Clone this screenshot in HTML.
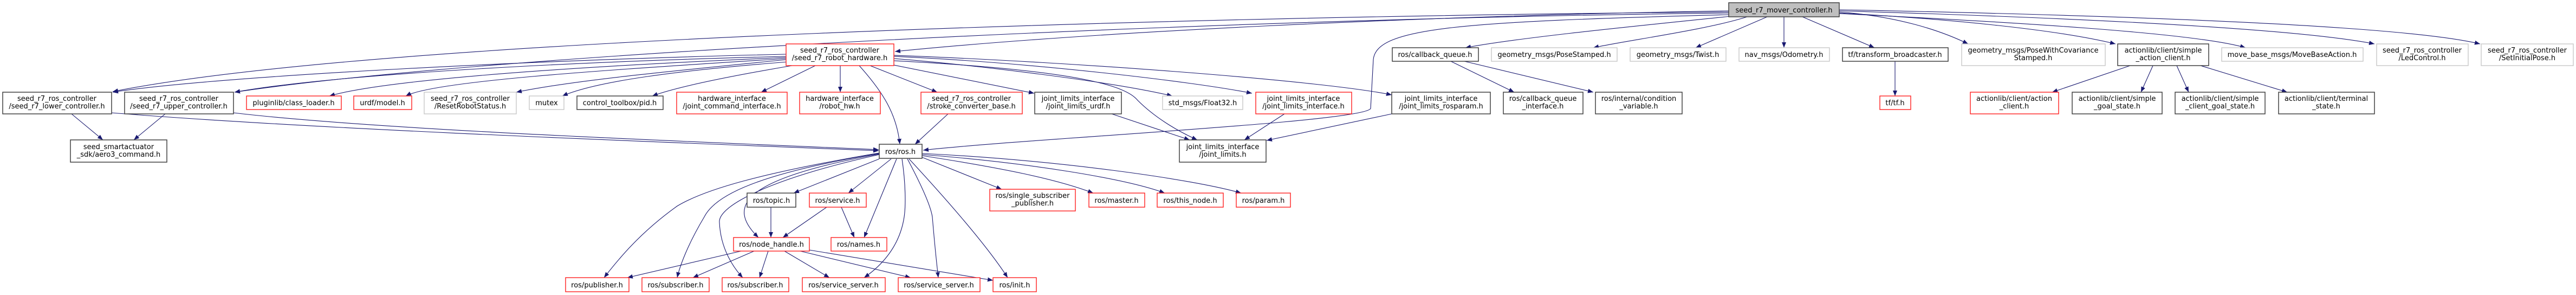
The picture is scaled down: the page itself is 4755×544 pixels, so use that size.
<!DOCTYPE html>
<html><head><meta charset="utf-8"><style>
html,body{margin:0;padding:0;background:#fff;width:4755px;height:544px;overflow:hidden}
svg{display:block}
text{font-family:"DejaVu Sans","Liberation Sans",sans-serif;font-size:13px;fill:#000;text-anchor:middle}
.k{fill:#fff;stroke:#404040;stroke-width:1.5}
.r{fill:#fff;stroke:#ff2020;stroke-width:1.4}
.g{fill:#fff;stroke:#c8c8c8;stroke-width:1.4}
.m{fill:#bfbfbf;stroke:#404040;stroke-width:1.5}
path.e{fill:none;stroke:#191970;stroke-width:1.1}
</style></head><body>
<svg width="4755" height="544" viewBox="0 0 4755 544" xmlns="http://www.w3.org/2000/svg">
<defs><marker id="a" markerUnits="userSpaceOnUse" markerWidth="11" markerHeight="8" refX="10" refY="4" orient="auto"><path d="M0,0 L10,4 L0,8 z" fill="#191970"/></marker></defs>
<g marker-end="url(#a)">
<!-- main edges -->
<path class="e" d="M3191,20 C2600,30 2000,60 1652,95"/>
<path class="e" d="M3191,22 C2200,30 700,70 208,169"/>
<path class="e" d="M3191,24 C2200,35 900,100 433,170"/>
<path class="e" d="M3191,27 C2700,40 2540,50 2535,110 L2530,200 C2520,225 1900,255 1704,277"/>
<path class="e" d="M3195,30 C3000,50 2800,70 2705,88"/>
<path class="e" d="M3225,31 C3150,55 3000,75 2941,88"/>
<path class="e" d="M3262,31 L3130,88"/>
<path class="e" d="M3293,31 L3293,88"/>
<path class="e" d="M3327,31 L3460,88"/>
<path class="e" d="M3395,22 C3500,30 3580,55 3633,81"/>
<path class="e" d="M3395,24 C3600,35 3800,55 3905,81"/>
<path class="e" d="M3395,25 C3700,40 4050,60 4145,88"/>
<path class="e" d="M3395,20 C3900,35 4250,55 4383,81"/>
<path class="e" d="M3395,18 C4000,30 4450,50 4578,81"/>
<!-- hardware edges -->
<path class="e" d="M1451,100 C1000,110 400,140 208,170"/>
<path class="e" d="M1451,104 C1000,115 600,140 433,170"/>
<path class="e" d="M1451,106 C1000,125 700,150 608,177"/>
<path class="e" d="M1451,108 C1100,130 800,150 749,177"/>
<path class="e" d="M1451,110 C1200,135 1050,150 953,170"/>
<path class="e" d="M1455,114 C1250,130 1100,150 1038,177"/>
<path class="e" d="M1462,121 C1350,140 1250,160 1204,177"/>
<path class="e" d="M1505,121 L1405,170"/>
<path class="e" d="M1551,121 L1551,170"/>
<path class="e" d="M1586,121 C1630,170 1655,210 1661,266"/>
<path class="e" d="M1606,121 L1730,170"/>
<path class="e" d="M1650,120 L1909,172"/>
<path class="e" d="M1650,108 C1800,120 2050,150 2164,177"/>
<path class="e" d="M1650,104 C1900,115 2200,150 2311,172"/>
<path class="e" d="M1650,102 C2000,115 2450,150 2569,175"/>
<path class="e" d="M1650,112 C2000,130 2080,160 2100,185 C2130,215 2170,240 2210,258"/>
<!-- row2 edges -->
<path class="e" d="M132,210 L190,258"/>
<path class="e" d="M305,210 L247,258"/>
<path class="e" d="M206,208 C600,240 1300,265 1622,278"/>
<path class="e" d="M431,208 C700,240 1300,262 1622,276"/>
<path class="e" d="M1750,210 L1689,266"/>
<path class="e" d="M2052,210 L2196,258"/>
<path class="e" d="M2371,210 L2297,258"/>
<path class="e" d="M2569,210 L2338,259"/>
<path class="e" d="M2678,113 L2795,170"/>
<path class="e" d="M2703,113 L2941,170"/>
<path class="e" d="M3498,113 L3498,177"/>
<path class="e" d="M3932,121 L3788,170"/>
<path class="e" d="M3974,121 L3952,170"/>
<path class="e" d="M4018,121 L4040,170"/>
<path class="e" d="M4062,121 L4222,170"/>
<!-- ros.h edges -->
<path class="e" d="M1623,293 L1465,356"/>
<path class="e" d="M1645,293 L1566,356"/>
<path class="e" d="M1655,293 L1595,438"/>
<path class="e" d="M1623,284 C1370,330 1340,380 1400,438"/>
<path class="e" d="M1623,282 C1400,320 1300,350 1250,380 C1180,430 1140,480 1115,512"/>
<path class="e" d="M1623,283 C1400,320 1320,360 1300,400 C1270,450 1255,490 1250,512"/>
<path class="e" d="M1623,285 C1420,330 1325,380 1328,410 C1330,460 1355,495 1371,512"/>
<path class="e" d="M1665,293 C1672,340 1672,380 1669,400 C1660,460 1620,495 1595,512"/>
<path class="e" d="M1675,293 C1700,340 1718,380 1721,400 C1726,460 1730,495 1732,512"/>
<path class="e" d="M1678,293 C1740,360 1820,450 1860,512"/>
<path class="e" d="M1702,290 L1849,349"/>
<path class="e" d="M1702,287 C1850,310 1950,330 2018,356"/>
<path class="e" d="M1702,285 C1900,300 2080,330 2150,356"/>
<path class="e" d="M1702,283 C1950,295 2200,330 2291,356"/>
<!-- topic / service -->
<path class="e" d="M1423,382 L1423,438"/>
<path class="e" d="M1526,382 L1445,438"/>
<path class="e" d="M1553,382 L1577,438"/>
<!-- node_handle -->
<path class="e" d="M1368,463 L1158,512"/>
<path class="e" d="M1392,463 L1279,512"/>
<path class="e" d="M1418,463 L1402,512"/>
<path class="e" d="M1448,463 L1531,512"/>
<path class="e" d="M1477,463 L1681,512"/>
<path class="e" d="M1494,461 L1833,517"/>
</g>
<!-- nodes -->
<rect class="m" x="3191" y="5" width="204" height="26"/><text x="3293" y="23">seed_r7_mover_controller.h</text>
<rect class="r" x="1451" y="81" width="199" height="40"/><text x="1550" y="97">seed_r7_ros_controller</text><text x="1550" y="111">/seed_r7_robot_hardware.h</text>
<rect class="k" x="2570" y="88" width="159" height="25"/><text x="2649" y="105">ros/callback_queue.h</text>
<rect class="g" x="2753" y="88" width="232" height="25"/><text x="2869" y="105">geometry_msgs/PoseStamped.h</text>
<rect class="g" x="3009" y="88" width="177" height="25"/><text x="3097" y="105">geometry_msgs/Twist.h</text>
<rect class="g" x="3210" y="88" width="167" height="25"/><text x="3293" y="105">nav_msgs/Odometry.h</text>
<rect class="k" x="3401" y="88" width="195" height="25"/><text x="3498" y="105">tf/transform_broadcaster.h</text>
<rect class="g" x="3621" y="81" width="265" height="40"/><text x="3753" y="97">geometry_msgs/PoseWithCovariance</text><text x="3753" y="111">Stamped.h</text>
<rect class="k" x="3909" y="81" width="168" height="40"/><text x="3993" y="97">actionlib/client/simple</text><text x="3993" y="111">_action_client.h</text>
<rect class="g" x="4101" y="88" width="261" height="25"/><text x="4231" y="105">move_base_msgs/MoveBaseAction.h</text>
<rect class="g" x="4387" y="81" width="169" height="40"/><text x="4471" y="97">seed_r7_ros_controller</text><text x="4471" y="111">/LedControl.h</text>
<rect class="g" x="4580" y="81" width="170" height="40"/><text x="4665" y="97">seed_r7_ros_controller</text><text x="4665" y="111">/SetInitialPose.h</text>

<rect class="k" x="5" y="170" width="201" height="40"/><text x="105" y="186">seed_r7_ros_controller</text><text x="105" y="200">/seed_r7_lower_controller.h</text>
<rect class="k" x="230" y="170" width="201" height="40"/><text x="330" y="186">seed_r7_ros_controller</text><text x="330" y="200">/seed_r7_upper_controller.h</text>
<rect class="r" x="455" y="177" width="175" height="25"/><text x="542" y="194">pluginlib/class_loader.h</text>
<rect class="r" x="653" y="177" width="107" height="25"/><text x="706" y="194">urdf/model.h</text>
<rect class="g" x="783" y="170" width="170" height="40"/><text x="868" y="186">seed_r7_ros_controller</text><text x="868" y="200">/ResetRobotStatus.h</text>
<rect class="g" x="977" y="177" width="64" height="25"/><text x="1009" y="194">mutex</text>
<rect class="k" x="1065" y="177" width="159" height="25"/><text x="1144" y="194">control_toolbox/pid.h</text>
<rect class="r" x="1249" y="170" width="204" height="40"/><text x="1351" y="186">hardware_interface</text><text x="1351" y="200">/joint_command_interface.h</text>
<rect class="r" x="1476" y="170" width="149" height="40"/><text x="1550" y="186">hardware_interface</text><text x="1550" y="200">/robot_hw.h</text>
<rect class="r" x="1700" y="170" width="187" height="40"/><text x="1793" y="186">seed_r7_ros_controller</text><text x="1793" y="200">/stroke_converter_base.h</text>
<rect class="k" x="1910" y="170" width="160" height="40"/><text x="1990" y="186">joint_limits_interface</text><text x="1990" y="200">/joint_limits_urdf.h</text>
<rect class="g" x="2146" y="177" width="148" height="25"/><text x="2220" y="194">std_msgs/Float32.h</text>
<rect class="r" x="2318" y="170" width="177" height="40"/><text x="2406" y="186">joint_limits_interface</text><text x="2406" y="200">/joint_limits_interface.h</text>
<rect class="k" x="2569" y="170" width="182" height="40"/><text x="2660" y="186">joint_limits_interface</text><text x="2660" y="200">/joint_limits_rosparam.h</text>
<rect class="k" x="2775" y="170" width="147" height="40"/><text x="2848" y="186">ros/callback_queue</text><text x="2848" y="200">_interface.h</text>
<rect class="k" x="2945" y="170" width="160" height="40"/><text x="3025" y="186">ros/internal/condition</text><text x="3025" y="200">_variable.h</text>
<rect class="r" x="3470" y="177" width="57" height="25"/><text x="3498" y="194">tf/tf.h</text>
<rect class="r" x="3637" y="170" width="163" height="40"/><text x="3718" y="186">actionlib/client/action</text><text x="3718" y="200">_client.h</text>
<rect class="k" x="3825" y="170" width="166" height="40"/><text x="3908" y="186">actionlib/client/simple</text><text x="3908" y="200">_goal_state.h</text>
<rect class="k" x="4015" y="170" width="166" height="40"/><text x="4098" y="186">actionlib/client/simple</text><text x="4098" y="200">_client_goal_state.h</text>
<rect class="k" x="4206" y="170" width="177" height="40"/><text x="4294" y="186">actionlib/client/terminal</text><text x="4294" y="200">_state.h</text>

<rect class="k" x="130" y="258" width="178" height="41"/><text x="219" y="275">seed_smartactuator</text><text x="219" y="289">_sdk/aero3_command.h</text>
<rect class="k" x="1623" y="266" width="79" height="26"/><text x="1662" y="284">ros/ros.h</text>
<rect class="k" x="2177" y="258" width="160" height="41"/><text x="2257" y="275">joint_limits_interface</text><text x="2257" y="289">/joint_limits.h</text>

<rect class="k" x="1379" y="356" width="90" height="26"/><text x="1424" y="374">ros/topic.h</text>
<rect class="r" x="1494" y="356" width="105" height="26"/><text x="1546" y="374">ros/service.h</text>
<rect class="r" x="1827" y="349" width="158" height="40"/><text x="1906" y="365">ros/single_subscriber</text><text x="1906" y="379">_publisher.h</text>
<rect class="r" x="2010" y="356" width="103" height="26"/><text x="2061" y="374">ros/master.h</text>
<rect class="r" x="2136" y="356" width="122" height="26"/><text x="2197" y="374">ros/this_node.h</text>
<rect class="r" x="2282" y="356" width="100" height="26"/><text x="2332" y="374">ros/param.h</text>

<rect class="r" x="1354" y="438" width="140" height="25"/><text x="1424" y="455">ros/node_handle.h</text>
<rect class="r" x="1534" y="438" width="103" height="25"/><text x="1585" y="455">ros/names.h</text>

<rect class="r" x="1044" y="512" width="117" height="26"/><text x="1102" y="530">ros/publisher.h</text>
<rect class="r" x="1185" y="512" width="124" height="26"/><text x="1247" y="530">ros/subscriber.h</text>
<rect class="r" x="1333" y="512" width="123" height="26"/><text x="1394" y="530">ros/subscriber.h</text>
<rect class="r" x="1481" y="512" width="153" height="26"/><text x="1557" y="530">ros/service_server.h</text>
<rect class="r" x="1658" y="512" width="151" height="26"/><text x="1733" y="530">ros/service_server.h</text>
<rect class="r" x="1833" y="512" width="80" height="26"/><text x="1873" y="530">ros/init.h</text>
</svg>
</body></html>
